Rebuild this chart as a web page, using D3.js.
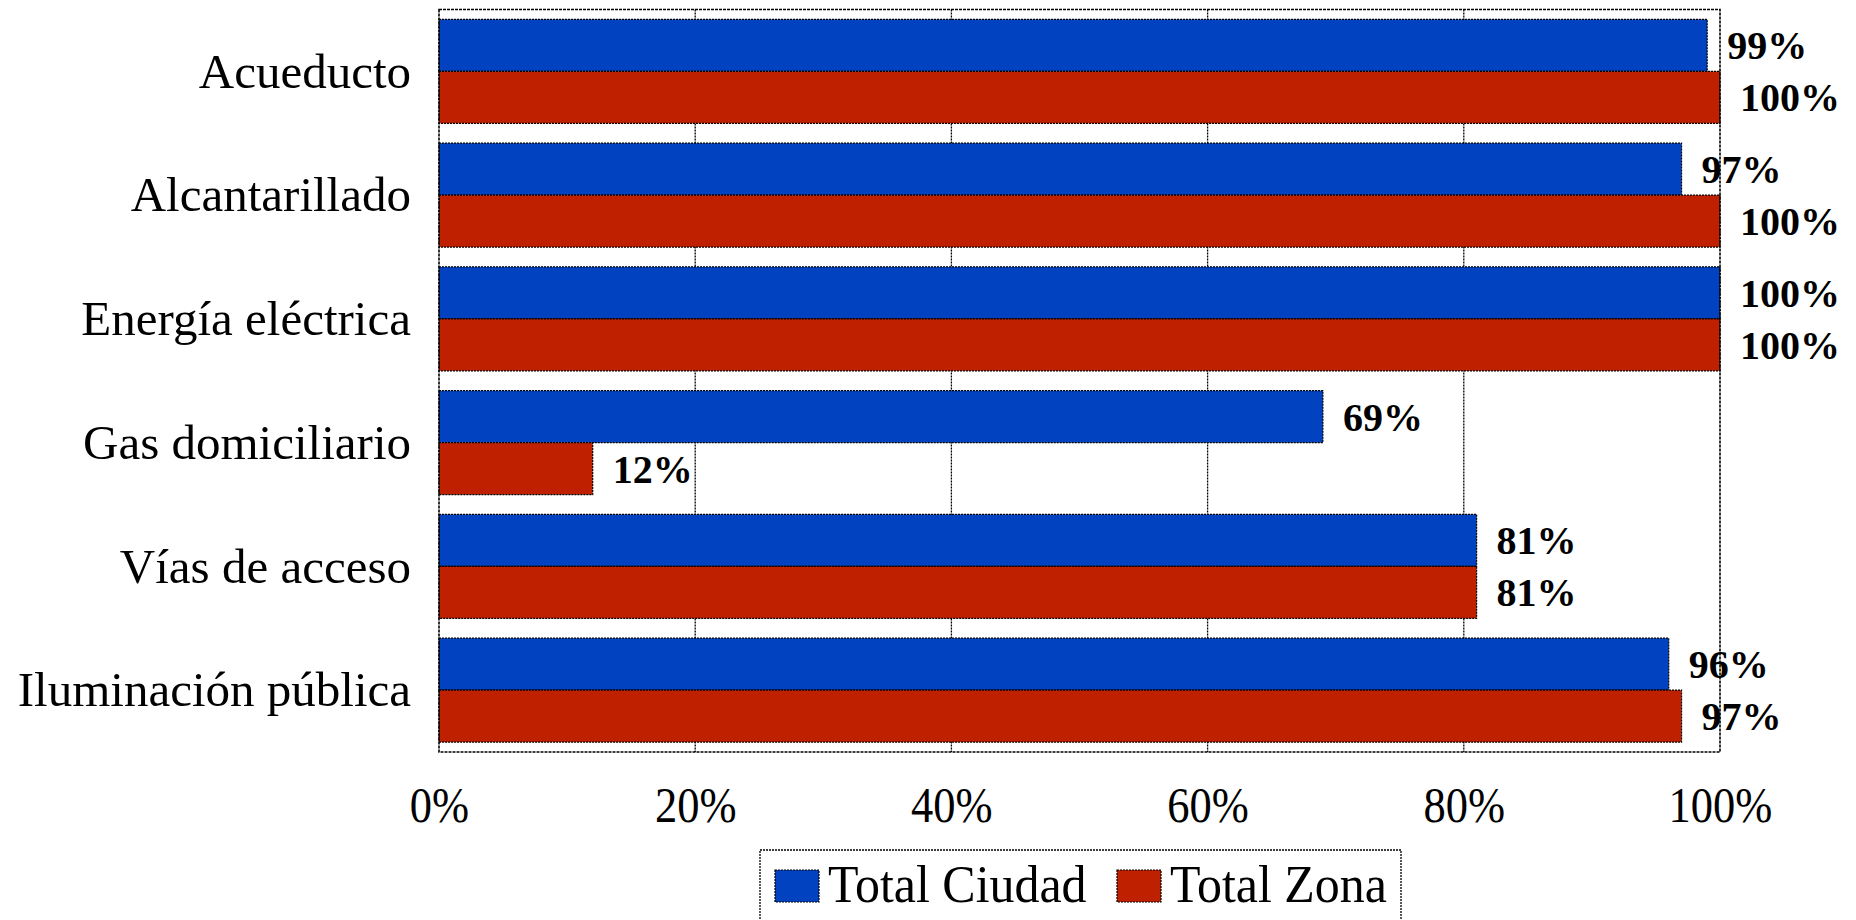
<!DOCTYPE html>
<html>
<head>
<meta charset="utf-8">
<script src="https://cdn.jsdelivr.net/npm/d3@7/dist/d3.min.js"></script>
<style>
  html, body { margin: 0; padding: 0; background: #fff; }
  svg { display: block; }
  text { font-family: "Liberation Serif", "Times New Roman", serif; }
</style>
</head>
<body>
<svg id="chart" width="1856" height="920"></svg>
<script>
const categories = ["Acueducto", "Alcantarillado", "Energía eléctrica", "Gas domiciliario", "Vías de acceso", "Iluminación pública"];
const seriesNames = ["Total Ciudad", "Total Zona"];
const totalCiudad = [0.99, 0.97, 1.00, 0.69, 0.81, 0.96];
const totalZona = [1.00, 1.00, 1.00, 0.12, 0.81, 0.97];
const tickValues = [0, 0.2, 0.4, 0.6, 0.8, 1.0];
const colors = ["#0042BF", "#BE2000"];

(function () {
const seriesValues = [totalCiudad, totalZona];
const data = categories.map((c, i) => ({
  cat: c,
  vals: seriesNames.map((s, j) => ({ series: s, value: seriesValues[j][i], j }))
}));

const svg = d3.select("#chart");
const pLeft = 439, pRight = 1720, pTop = 9.5, pBottom = 752;

const x = d3.scaleLinear().domain([0, 1]).range([pLeft, pRight]);
const y = d3.scaleBand().domain(categories).range([pTop, pBottom]).paddingInner(0.16).paddingOuter(0.08);
const y1 = d3.scaleBand().domain(seriesNames).range([0, y.bandwidth()]);
const color = d3.scaleOrdinal().domain(seriesNames).range(colors);

const dash = "2,1";

// gridlines
svg.append("g").selectAll("line")
  .data(tickValues.filter(v => v > 0 && v < 1))
  .join("line")
  .attr("x1", d => x(d)).attr("x2", d => x(d))
  .attr("y1", pTop).attr("y2", pBottom)
  .attr("stroke", "#000").attr("stroke-width", 1.3).attr("stroke-dasharray", dash);

// bars
const groups = svg.append("g").selectAll("g")
  .data(data).join("g")
  .attr("transform", d => `translate(0,${y(d.cat)})`);

groups.selectAll("rect")
  .data(d => d.vals).join("rect")
  .attr("x", x(0))
  .attr("y", d => y1(d.series))
  .attr("width", d => x(d.value) - x(0))
  .attr("height", y1.bandwidth())
  .attr("fill", d => color(d.series))
  .attr("stroke", "#000").attr("stroke-width", 1.2).attr("stroke-dasharray", dash);

groups.selectAll("text")
  .data(d => d.vals).join("text")
  .attr("x", d => x(d.value) + 20)
  .attr("y", d => y1(d.series) + y1.bandwidth() / 2)
  .attr("dy", "0.35em")
  .attr("font-size", 40)
  .attr("font-weight", "bold")
  .attr("fill", "#000")
  .text(d => d3.format(".0%")(d.value));

// frame
svg.append("rect")
  .attr("x", pLeft).attr("y", pTop)
  .attr("width", pRight - pLeft).attr("height", pBottom - pTop)
  .attr("fill", "none").attr("stroke", "#000").attr("stroke-width", 1.6).attr("stroke-dasharray", "3,1");

// category axis
const yAxis = svg.append("g")
  .attr("transform", `translate(${pLeft - 28},0)`)
  .call(d3.axisLeft(y).tickSize(0).tickPadding(0));
yAxis.select(".domain").remove();
yAxis.selectAll("text")
  .attr("font-size", 49)
  .attr("font-family", "Liberation Serif, Times New Roman, serif")
  .attr("fill", "#000")
  .attr("dy", "0.33em");

// value axis
const xAxis = svg.append("g")
  .attr("transform", `translate(0,822)`)
  .call(d3.axisBottom(x).tickValues(tickValues).tickFormat(d3.format(".0%")).tickSize(0).tickPadding(0));
xAxis.select(".domain").remove();
xAxis.selectAll("text")
  .attr("font-size", 50)
  .attr("font-family", "Liberation Serif, Times New Roman, serif")
  .attr("fill", "#000")
  .attr("dy", "0")
  .attr("class", "condensed");

// legend
const legend = svg.append("g");
legend.append("rect")
  .attr("x", 760).attr("y", 850).attr("width", 641).attr("height", 100)
  .attr("fill", "#fff").attr("stroke", "#000").attr("stroke-width", 1.3).attr("stroke-dasharray", dash);
const legendX = [775, 1117];
const items = legend.selectAll("g.item")
  .data(seriesNames).join("g").attr("class", "item")
  .attr("transform", (d, i) => `translate(${legendX[i]},870)`);
items.append("rect")
  .attr("width", 44).attr("height", 32)
  .attr("fill", d => color(d))
  .attr("stroke", "#000").attr("stroke-width", 1.2).attr("stroke-dasharray", dash);
items.append("text")
  .attr("x", 53).attr("y", 32)
  .attr("font-size", 52)
  .attr("fill", "#000")
  .attr("class", "condensedL")
  .text(d => d);

// condense text horizontally
svg.selectAll("text.condensed").each(function() {
  const w = this.getComputedTextLength();
  d3.select(this).attr("textLength", w * 0.89).attr("lengthAdjust", "spacingAndGlyphs");
});
svg.selectAll("text.condensedL").each(function() {
  const w = this.getComputedTextLength();
  d3.select(this).attr("textLength", w * 0.96).attr("lengthAdjust", "spacingAndGlyphs");
});
})();
</script>
</body>
</html>
